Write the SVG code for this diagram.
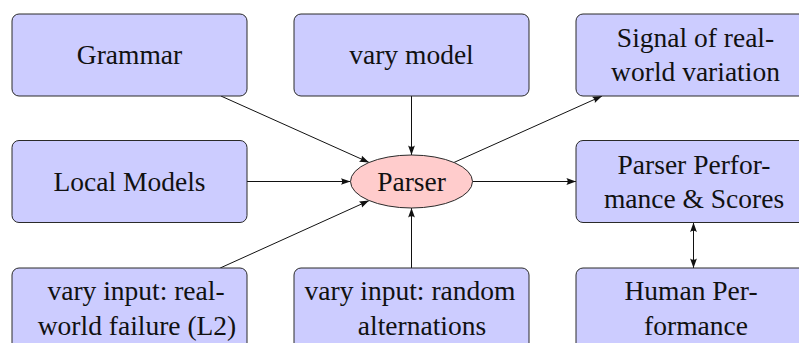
<svg xmlns="http://www.w3.org/2000/svg" width="799" height="343" viewBox="0 0 799 343">
  <style>
    .box { fill: #ccccff; stroke: #2a2a2a; stroke-width: 1; }
    .ell { fill: #ffcccc; stroke: #2a2a2a; stroke-width: 1; }
    text { font-family: 'Liberation Serif', 'Times New Roman', Tinos, 'Nimbus Roman', FreeSerif, 'Noto Serif', 'DejaVu Serif', serif; font-size: 27.5px; fill: #111; text-anchor: middle; }
    .edge { stroke: #111; stroke-width: 1; fill: none; }
    .arr { marker-end: url(#tip); }
    .both { marker-start: url(#tip); marker-end: url(#tip); }
  </style>
  <defs>
    <marker id="tip" viewBox="0 0 10 8" refX="9.6" refY="4" markerWidth="10" markerHeight="8" markerUnits="userSpaceOnUse" orient="auto-start-reverse">
      <path d="M0,0.6 L9.6,4 L0,7.4 Q2.6,4 0,0.6 Z" fill="#111"/>
    </marker>
  </defs>

  <rect width="799" height="343" fill="#ffffff"/>

  <!-- connectors -->
  <g id="connectors">
    <line class="edge arr" x1="220.9" y1="96" x2="369.1" y2="162.5"/>
    <line class="edge arr" x1="411.5" y1="96" x2="411.5" y2="155"/>
    <line class="edge arr" x1="247" y1="181.5" x2="350.5" y2="181.5"/>
    <line class="edge arr" x1="220.2" y1="268" x2="369.1" y2="200.6"/>
    <line class="edge arr" x1="411.5" y1="268" x2="411.5" y2="208"/>
    <line class="edge arr" x1="453.9" y1="162.5" x2="602.1" y2="96"/>
    <line class="edge arr" x1="472.5" y1="181.5" x2="576" y2="181.5"/>
    <line class="edge both" x1="693.5" y1="222.5" x2="693.5" y2="268"/>
  </g>

  <!-- top row -->
  <g id="grammar">
    <rect class="box" x="12" y="14" width="235" height="82" rx="7"/>
    <text x="129.5" y="64">Grammar</text>
  </g>
  <g id="vary-model">
    <rect class="box" x="294" y="14" width="235" height="82" rx="7"/>
    <text x="411.5" y="64">vary model</text>
  </g>
  <g id="signal">
    <rect class="box" x="576" y="14" width="235" height="82" rx="7"/>
    <text x="695.5" y="47">Signal of real-</text>
    <text x="695.5" y="81">world variation</text>
  </g>

  <!-- middle row -->
  <g id="local-models">
    <rect class="box" x="12" y="140.5" width="235" height="82" rx="7"/>
    <text x="129.5" y="190.5">Local Models</text>
  </g>
  <g id="parser">
    <ellipse class="ell" cx="411.5" cy="181.5" rx="61" ry="26.5"/>
    <text x="411.5" y="190.5">Parser</text>
  </g>
  <g id="parser-performance">
    <rect class="box" x="576" y="140.5" width="235" height="82" rx="7"/>
    <text x="694" y="173.5">Parser Perfor-</text>
    <text x="694" y="207.5">mance &amp; Scores</text>
  </g>

  <!-- bottom row -->
  <g id="vary-input-l2">
    <rect class="box" x="12" y="268" width="235" height="82" rx="7"/>
    <text x="136" y="300">vary input: real-</text>
    <text x="137" y="335">world failure (L2)</text>
  </g>
  <g id="vary-input-random">
    <rect class="box" x="294" y="268" width="235" height="82" rx="7"/>
    <text x="410" y="300">vary input: random</text>
    <text x="422" y="335">alternations</text>
  </g>
  <g id="human-performance">
    <rect class="box" x="576" y="268" width="235" height="82" rx="7"/>
    <text x="691" y="300">Human Per-</text>
    <text x="696" y="335">formance</text>
  </g>
</svg>
